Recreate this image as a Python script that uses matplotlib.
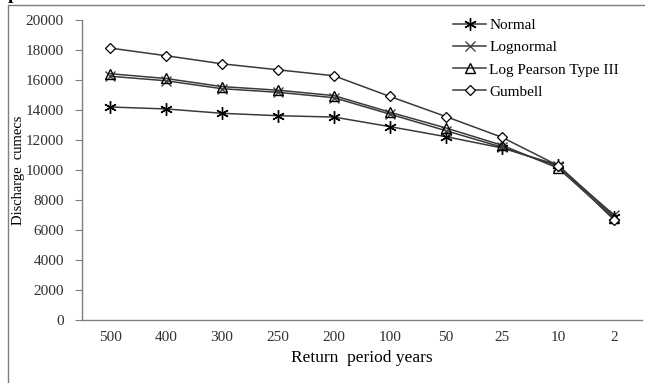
import matplotlib.pyplot as plt
from matplotlib.patches import Rectangle
import numpy as np

# --- data ---
return_periods = ["500", "400", "300", "250", "200", "100", "50", "25", "10", "2"]
normal = [14200, 14070, 13780, 13620, 13530, 12890, 12220, 11470, 10330, 6900]
lognormal = [16250, 15950, 15420, 15180, 14820, 13720, 12620, 11520, 10250, 7000]
log_pearson = [16420, 16100, 15560, 15320, 14960, 13850, 12800, 11650, 10130, 6800]
gumbell = [18130, 17620, 17080, 16680, 16280, 14900, 13560, 12180, 10300, 6680]

plt.rcParams["font.family"] = ["Liberation Serif", "DejaVu Serif"]

fig = plt.figure(figsize=(6.45, 3.83), dpi=100)
ax = fig.add_axes([82 / 645, 1 - 320 / 383, 560 / 645, 300 / 383])

# outer chart frame (only top and left edges visible)
fig.patches.append(Rectangle((8 / 645, -0.1), 1.2, 1 - 5 / 383 + 0.1,
                             transform=fig.transFigure, fill=False,
                             edgecolor="#7f7f7f", lw=1.0))
# clipped heading from the page above
fig.text(8 / 645, 1 + 1 / 383, "period", fontsize=14, fontweight="bold",
         va="baseline", ha="left")

x = np.arange(len(return_periods))
line_c = "#3a3a3a"
series = [
    ("Normal", normal, dict(marker=(6, 2, 0), ms=9, mew=1.0, mec="black")),
    ("Lognormal", lognormal, dict(marker="x", ms=7, mew=1.0, mec="#444444")),
    ("Log Pearson Type III", log_pearson,
     dict(marker="^", ms=7, mew=1.0, mec="black", mfc="none")),
    ("Gumbell", gumbell, dict(marker="D", ms=5.5, mew=0.9, mec="black", mfc="white")),
]
for name, vals, style in series:
    ax.plot(x, vals, color=line_c, lw=1.1, label=name, **style)

ax.set_xlim(-0.5, len(return_periods) - 0.5)
ax.set_ylim(0, 20000)
ax.set_yticks(np.arange(0, 20001, 2000))
ax.set_xticks(x)
ax.set_xticklabels(return_periods)

for side in ["top", "right"]:
    ax.spines[side].set_visible(False)
for side in ["left", "bottom"]:
    ax.spines[side].set_color("#808080")
    ax.spines[side].set_linewidth(1.0)

ax.tick_params(axis="y", length=5, color="#808080", labelsize=11,
               labelcolor="#303030", pad=8)
ax.tick_params(axis="x", length=0, labelsize=11, labelcolor="#303030", pad=8)

ax.set_ylabel("Discharge  cumecs", fontsize=10.5)
ax.yaxis.set_label_coords((25 - 82) / 560, 0.5)
ax.set_xlabel("Return  period years", fontsize=12.5, labelpad=4)

leg = ax.legend(loc="upper left", bbox_to_anchor=(442 / 645, 1 - 8 / 383),
                bbox_transform=fig.transFigure, frameon=False, fontsize=11,
                handlelength=2.2, handletextpad=0.2, labelspacing=0.55,
                borderpad=0.2)

fig.savefig("out.png", dpi=100)
